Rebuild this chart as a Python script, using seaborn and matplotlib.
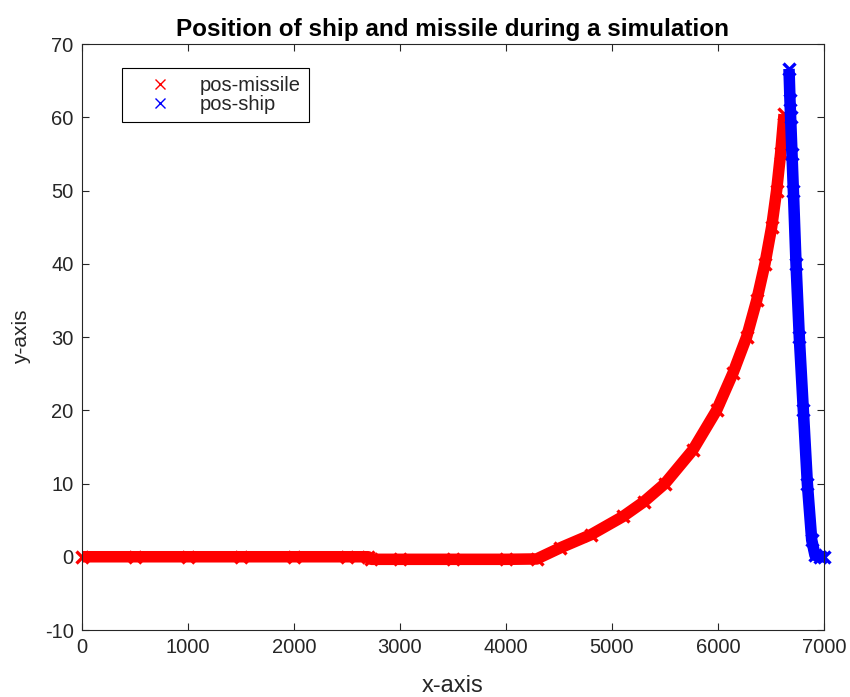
import matplotlib
matplotlib.use("Agg")
import matplotlib.pyplot as plt
from matplotlib.lines import Line2D
import seaborn as sns
import pandas as pd

# ---- data ----
missile_x = [0, 500, 1000, 1500, 2000, 2500, 2700, 2730, 3000, 3500, 4000, 4290,
             4509, 4800, 5104, 5300, 5500, 5764, 5987, 6142, 6270, 6365, 6443,
             6506, 6553, 6591, 6623]
missile_y = [0, 0, 0, 0, 0, 0, 0, -0.35, -0.35, -0.35, -0.35, -0.3,
             1.2, 3.0, 5.5, 7.5, 10, 14.6, 20, 25.1, 30, 35, 40,
             45, 50, 55.1, 60.4]

ship_x = [6670, 6679, 6685, 6698, 6711, 6736, 6767, 6805, 6843, 6884, 6915, 6960, 7000]
ship_y = [66.6, 62.3, 60, 55, 50, 40, 30, 20, 10, 2.3, 0.2, 0, 0]

x_ticks = [0, 1000, 2000, 3000, 4000, 5000, 6000, 7000]
y_ticks = [-10, 0, 10, 20, 30, 40, 50, 60, 70]

title = "Position of ship and missile during a simulation"
series_labels = ["pos-missile", "pos-ship"]
series_colors = ["#ff0000", "#0000ff"]

# ---- style ----
sns.set_theme(style="white")
plt.rcParams["font.family"] = ["Liberation Sans", "DejaVu Sans"]
dark = "#262626"

fig = plt.figure(figsize=(8.5, 6.97), dpi=100)
ax = fig.add_axes([82 / 850, 1 - 630 / 697, (824 - 82) / 850, (630 - 44) / 697])

df_m = pd.DataFrame({"x": missile_x, "y": missile_y})
df_s = pd.DataFrame({"x": ship_x, "y": ship_y})

lw = 8.3
for df, col in [(df_m, series_colors[0]), (df_s, series_colors[1])]:
    sns.lineplot(data=df, x="x", y="y", ax=ax, color=col, linewidth=lw,
                 sort=False, estimator=None, marker="x", markersize=9,
                 markeredgewidth=2.4, markeredgecolor=col, markerfacecolor=col,
                 clip_on=False, solid_capstyle="butt")

ax.set_xlim(0, 7000)
ax.set_ylim(-10, 70)
ax.set_xticks(x_ticks)
ax.set_yticks(y_ticks)
ax.set_xticklabels([str(v) for v in x_ticks])
ax.set_yticklabels([str(v) for v in y_ticks])

ax.tick_params(axis="both", which="both", direction="in", length=5, width=0.8,
               colors=dark, labelsize=14.5, top=True, right=True,
               bottom=True, left=True, pad=6)
for sp in ax.spines.values():
    sp.set_visible(True)
    sp.set_color(dark)
    sp.set_linewidth(0.8)

ax.set_xlabel("x-axis", fontsize=17, color=dark, labelpad=13)
ax.set_ylabel("y-axis", fontsize=15, color=dark, labelpad=10)
ax.set_title(title, fontsize=17.5, fontweight="bold", color="black", pad=6)

handles = [
    Line2D([], [], linestyle="None", marker="x", color=c, markersize=7, markeredgewidth=1.0)
    for c in series_colors
]
leg = ax.legend(handles, series_labels, loc="upper left",
                bbox_to_anchor=((122 - 82) / 742, (630 - 68) / 586),
                borderaxespad=0, fancybox=False, frameon=True, fontsize=14.5,
                handlelength=3.0, handletextpad=0.48, borderpad=0.4,
                labelspacing=0.0)
leg.get_frame().set_edgecolor("black")
leg.get_frame().set_linewidth(0.8)
leg.get_frame().set_alpha(1)
for t in leg.get_texts():
    t.set_color(dark)

fig.savefig("out.png", dpi=100)
